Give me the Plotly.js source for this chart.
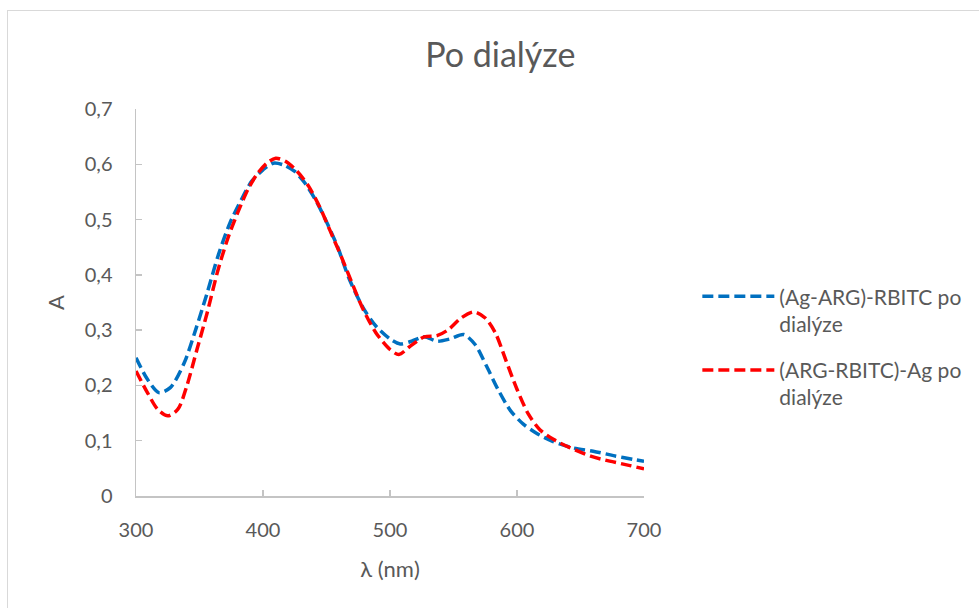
<!DOCTYPE html>
<html>
<head>
<meta charset="utf-8">
<script src="https://cdn.plot.ly/plotly-3.0.1.min.js"></script>
<style>
  html, body { margin: 0; padding: 0; background: #ffffff; }
  #frame { position: absolute; left: 7px; top: 10px; width: 1100px; height: 700px; border: 1px solid #d9d9d9; box-sizing: border-box; }
  #chart { position: absolute; left: 0; top: 0; width: 979px; height: 608px; }
</style>
</head>
<body>
<div id="frame"></div>
<div id="chart"></div>
<script>
const chartTitle = "Po dialýze";
const xTitle = "λ (nm)";
const yTitle = "A";

const seriesNames = ["(Ag-ARG)-RBITC po<br>dialýze", "(ARG-RBITC)-Ag po<br>dialýze"];

const wavelengthBlue = [300,309,318,327,338,347,356,365,374,383,391,400,408,416,425,433,442,451,459,468,479,489,500,508,517,527,537,547,558,567,576,585,595,605,615,628,644,660,676,692,700];
const absorbanceBlue = [0.250,0.211,0.187,0.196,0.241,0.301,0.367,0.437,0.494,0.536,0.569,0.590,0.602,0.599,0.587,0.566,0.533,0.491,0.449,0.392,0.340,0.307,0.284,0.275,0.280,0.288,0.280,0.284,0.292,0.274,0.235,0.193,0.154,0.130,0.114,0.099,0.087,0.081,0.073,0.066,0.063];

const wavelengthRed = [300,309,317,325,333,340,348,356,364,372,380,388,395,403,410,418,427,436,445,453,462,471,479,489,500,507,516,527,537,546,556,566,575,583,591,600,609,618,629,642,658,673,689,700];
const absorbanceRed = [0.226,0.187,0.157,0.145,0.157,0.199,0.265,0.331,0.404,0.464,0.512,0.554,0.581,0.602,0.611,0.605,0.587,0.560,0.521,0.479,0.431,0.380,0.337,0.295,0.265,0.256,0.271,0.288,0.290,0.301,0.322,0.333,0.322,0.295,0.247,0.193,0.148,0.120,0.102,0.087,0.072,0.063,0.055,0.049];

const xTickVals = [300, 400, 500, 600, 700];
const xTickText = ["300", "400", "500", "600", "700"];
const yTickVals = [0, 0.1, 0.2, 0.3, 0.4, 0.5, 0.6, 0.7];
const yTickText = ["0", "0,1", "0,2", "0,3", "0,4", "0,5", "0,6", "0,7"];

const FONT = "Lato, 'Open Sans', sans-serif";
const TXT = "#595959";
const AXIS = "#c4c4c4";

const traces = [
  {
    x: wavelengthBlue, y: absorbanceBlue, name: seriesNames[0], legendgroup: "g1",
    type: "scatter", mode: "lines",
    line: { color: "#0070C0", width: 3.5, dash: "11px,5px", shape: "spline", smoothing: 0.8 }
  },
  {
    x: wavelengthRed, y: absorbanceRed, name: seriesNames[1], legendgroup: "g2",
    type: "scatter", mode: "lines",
    line: { color: "#FF0000", width: 3.5, dash: "11px,5px", shape: "spline", smoothing: 0.8 }
  }
];

const layout = {
  width: 979, height: 608,
  paper_bgcolor: "rgba(0,0,0,0)",
  plot_bgcolor: "rgba(0,0,0,0)",
  margin: { l: 136, r: 335, t: 109, b: 112 },
  font: { family: FONT, color: TXT },
  title: { text: chartTitle, font: { family: FONT, size: 34, color: TXT }, x: 0.511, xref: "container", xanchor: "center", y: 0.91, yanchor: "middle" },
  xaxis: {
    range: [300, 700], tickvals: xTickVals, ticktext: xTickText,
    showgrid: false, zeroline: false, showline: true, linecolor: AXIS, linewidth: 1.5,
    ticks: "inside", ticklen: 6, tickcolor: AXIS, tickwidth: 1.5,
    tickfont: { family: FONT, size: 20, color: TXT }, ticklabelstandoff: 15,
    title: { text: xTitle, font: { family: FONT, size: 22, color: TXT }, standoff: 22 }
  },
  yaxis: {
    range: [0, 0.7], tickvals: yTickVals, ticktext: yTickText,
    showgrid: false, zeroline: false, showline: true, linecolor: AXIS, linewidth: 1.5,
    ticks: "inside", ticklen: 6, tickcolor: AXIS, tickwidth: 1.5,
    tickfont: { family: FONT, size: 20, color: TXT }, ticklabelstandoff: 18,
    title: { text: yTitle, font: { family: FONT, size: 22, color: TXT }, standoff: 14 }
  },
  legend: {
    x: 1.105, xanchor: "left", y: 0.568, yanchor: "top",
    font: { family: FONT, size: 21, color: TXT },
    itemwidth: 72, valign: "top", tracegroupgap: 16,
    bgcolor: "rgba(0,0,0,0)"
  },
  showlegend: true
};

Plotly.newPlot("chart", traces, layout, { displayModeBar: false, staticPlot: true });
</script>
</body>
</html>
